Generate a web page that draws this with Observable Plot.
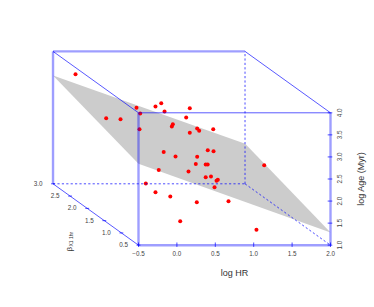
<!DOCTYPE html>
<html>
<head>
<meta charset="utf-8">
<style>html,body{margin:0;padding:0;background:#fff}svg{display:block}</style>
<script src="https://cdn.jsdelivr.net/npm/d3@7"></script>
<script src="https://cdn.jsdelivr.net/npm/@observablehq/plot@0.6"></script>
</head>
<body>
<script>
// Projected positions of the points
const logHR = [-1.320,-0.526,-0.478,-0.921,-0.734,-0.487,-0.279,-0.204,-0.161,0.168,
  0.121,-0.053,-0.066,0.168,0.264,0.290,0.473,-0.172,-0.018,0.264,
  0.402,0.477,0.246,0.375,0.401,1.137,-0.236,0.151,0.375,0.444,
  0.516,0.533,0.490,-0.405,-0.279,-0.086,0.259,0.672,1.036,0.043];
const logAge = [4.875,4.114,3.984,3.878,3.855,3.629,4.143,4.218,4.030,4.104,
  3.894,3.742,3.690,3.547,3.644,3.592,3.629,3.112,3.010,3.003,
  3.150,3.130,2.840,2.829,2.829,2.813,2.704,2.670,2.541,2.557,
  2.459,2.482,2.314,2.398,2.201,2.104,1.974,1.997,1.349,1.544];
const planeX = [-1.613,0.889,2.0,-0.5];
const planeY = [4.845,3.298,1.288,2.845];
const xTicks = [-0.5,0,0.5,1,1.5,2];
const yTicks = [1,1.5,2,2.5,3,3.5,4];
const betaTicks = [0.5,1,1.5,2,2.5,3];
const xMin = -0.5, xMax = 2, yMin = 1, yMax = 4;
const depthX = -1.113, depthY = 1.391; // shift of the back face
const betaX = b => xMin + depthX * (b - 0.5) / 2.5;
const betaY = b => yMin + depthY * (b - 0.5) / 2.5;

const X0 = xMin + depthX, X1 = xMax + depthX, Y0 = yMin + depthY, Y1 = yMax + depthY;
const heavy = [
  [xMin,yMin,xMin,yMax],[xMin,yMin,xMax,yMin],[xMax,yMin,xMax,yMax],
  [X0,Y0,X0,Y1],[X0,Y1,X1,Y1]
];
const thin = [
  [xMin,yMax,xMax,yMax],[X0,Y1,xMin,yMax],[X1,Y1,xMax,yMax],[X0,Y0,xMin,yMin]
];
const dashed = [
  [X0,Y0,X1,Y0],[X1,Y0,X1,Y1],[X1,Y0,xMax,yMin]
];
const seg = {x1:d=>d[0],y1:d=>d[1],x2:d=>d[2],y2:d=>d[3]};
const blue = "#0000ff";
const font = "Liberation Sans, Helvetica, Arial, sans-serif";
const tickInk = "#444";
const fmt = d => d3.format(".1f")(d);

const chart = Plot.plot({
  width: 374, height: 307,
  marginLeft: 138, marginRight: 44, marginTop: 112.3, marginBottom: 62.3,
  style: {fontFamily: font, background: "#fff", overflow: "visible"},
  x: {domain: [xMin,xMax]},
  y: {domain: [yMin,yMax]},
  marks: [
    Plot.line([0,1,2,3,0], {x:i=>planeX[i], y:i=>planeY[i], fill:"#cccccc", stroke:"none"}),
    Plot.dot(logHR.map((v,i)=>i), {x:i=>logHR[i], y:i=>logAge[i], r:2, fill:"#ff0000", stroke:"none"}),
    Plot.link(heavy, {...seg, stroke:blue, strokeOpacity:0.38, strokeWidth:2.4}),
    Plot.link(thin, {...seg, stroke:blue, strokeOpacity:0.65, strokeWidth:1}),
    Plot.link(dashed, {...seg, stroke:blue, strokeOpacity:0.7, strokeWidth:1, strokeDasharray:"2.2,2.2"}),
    Plot.ruleX(xTicks, {y1:yMin-0.05, y2:yMin+0.05, stroke:blue, strokeOpacity:0.7, strokeWidth:1}),
    Plot.ruleY(yTicks, {x1:xMax-0.03, x2:xMax+0.03, stroke:blue, strokeOpacity:0.7, strokeWidth:1}),
    Plot.link(betaTicks, {x1:b=>betaX(b)-0.025, x2:b=>betaX(b)+0.025, y1:betaY, y2:betaY, stroke:blue, strokeOpacity:0.7, strokeWidth:1}),
    Plot.axisX({anchor:"bottom", ticks:xTicks, tickSize:0, tickPadding:6, tickFormat:fmt, label:null, fontSize:6.3, fill:tickInk}),
    Plot.axisY({anchor:"right", ticks:yTicks, tickSize:0, tickPadding:11, tickRotate:-90, tickFormat:fmt, label:null, fontSize:6.3, fill:tickInk}),
    Plot.text(betaTicks, {x:betaX, y:betaY, dx:-15, text:fmt, fontSize:6.3, fill:tickInk}),
    Plot.text(["log HR"], {x:0.75, y:yMin, dy:28, fontSize:9, fill:"#333"}),
    Plot.text(["log Age (Myr)"], {x:xMax, y:2.5, dx:31, rotate:-90, fontSize:9, fill:"#333"}),
    Plot.text(["β"], {x:betaX(0.5), y:betaY(0.5), dx:-69, dy:4, rotate:-90, fontSize:8, fill:"#333"}),
    Plot.text(["X1 1hr"], {x:betaX(0.5), y:betaY(0.5), dx:-67, dy:-6, rotate:-90, fontSize:5, fill:"#333"})
  ]
});
document.body.appendChild(chart);
</script>
</body>
</html>
